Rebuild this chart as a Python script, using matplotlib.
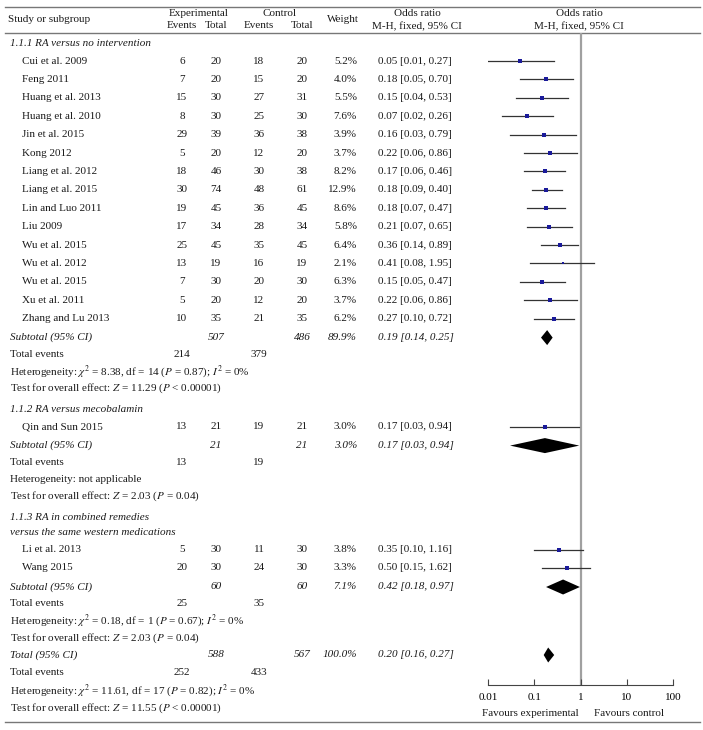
import numpy as np
import matplotlib
matplotlib.use('Agg')
import matplotlib.pyplot as plt

plt.rcParams['font.family'] = ['Liberation Serif', 'DejaVu Serif']
plt.rcParams['mathtext.fontset'] = 'stix'

# subgroup 1.1.1
studies1 = ['Cui et al. 2009', 'Feng 2011', 'Huang et al. 2013', 'Huang et al. 2010', 'Jin et al. 2015',
            'Kong 2012', 'Liang et al. 2012', 'Liang et al. 2015', 'Lin and Luo 2011', 'Liu 2009',
            'Wu et al. 2015', 'Wu et al. 2012', 'Wu et al. 2015', 'Xu et al. 2011', 'Zhang and Lu 2013']
exp_ev1 = [6, 7, 15, 8, 29, 5, 18, 30, 19, 17, 25, 13, 7, 5, 10]
exp_n1 = [20, 20, 30, 30, 39, 20, 46, 74, 45, 34, 45, 19, 30, 20, 35]
ctl_ev1 = [18, 15, 27, 25, 36, 12, 30, 48, 36, 28, 35, 16, 20, 12, 21]
ctl_n1 = [20, 20, 31, 30, 38, 20, 38, 61, 45, 34, 45, 19, 30, 20, 35]
weight1 = [5.2, 4.0, 5.5, 7.6, 3.9, 3.7, 8.2, 12.9, 8.6, 5.8, 6.4, 2.1, 6.3, 3.7, 6.2]
or1 = [0.05, 0.18, 0.15, 0.07, 0.16, 0.22, 0.17, 0.18, 0.18, 0.21, 0.36, 0.41, 0.15, 0.22, 0.27]
lo1 = [0.01, 0.05, 0.04, 0.02, 0.03, 0.06, 0.06, 0.09, 0.07, 0.07, 0.14, 0.08, 0.05, 0.06, 0.10]
hi1 = [0.27, 0.70, 0.53, 0.26, 0.79, 0.86, 0.46, 0.40, 0.47, 0.65, 0.89, 1.95, 0.47, 0.86, 0.72]

# subgroup 1.1.2
studies2 = ['Qin and Sun 2015']
exp_ev2 = [13]
exp_n2 = [21]
ctl_ev2 = [19]
ctl_n2 = [21]
weight2 = [3.0]
or2 = [0.17]
lo2 = [0.03]
hi2 = [0.94]

# subgroup 1.1.3
studies3 = ['Li et al. 2013', 'Wang 2015']
exp_ev3 = [5, 20]
exp_n3 = [30, 30]
ctl_ev3 = [11, 24]
ctl_n3 = [30, 30]
weight3 = [3.8, 3.3]
or3 = [0.35, 0.50]
lo3 = [0.10, 0.15]
hi3 = [1.16, 1.62]

# subtotals
sub_exp_n = [507, 21, 60]
sub_ctl_n = [486, 21, 60]
sub_weight = [89.9, 3.0, 7.1]
sub_or = [0.19, 0.17, 0.42]
sub_lo = [0.14, 0.03, 0.18]
sub_hi = [0.25, 0.94, 0.97]
sub_exp_ev = [214, 13, 25]
sub_ctl_ev = [379, 19, 35]
sub_het = [r'Heterogeneity: $\chi^2$ = 8.38, df = 14 ($P$ = 0.87); $I^2$ = 0%',
           'Heterogeneity: not applicable',
           r'Heterogeneity: $\chi^2$ = 0.18, df = 1 ($P$ = 0.67); $I^2$ = 0%']
sub_test = [r'Test for overall effect: $Z$ = 11.29 ($P$ < 0.00001)',
            r'Test for overall effect: $Z$ = 2.03 ($P$ = 0.04)',
            r'Test for overall effect: $Z$ = 2.03 ($P$ = 0.04)']

total_exp_n, total_ctl_n, total_or, total_lo, total_hi = 588, 567, 0.20, 0.16, 0.27
total_exp_ev, total_ctl_ev = 252, 433
total_het = r'Heterogeneity: $\chi^2$ = 11.61, df = 17 ($P$ = 0.82); $I^2$ = 0%'
total_test = r'Test for overall effect: $Z$ = 11.55 ($P$ < 0.00001)'

groups = [
    (['1.1.1 RA versus no intervention'], studies1, exp_ev1, exp_n1, ctl_ev1, ctl_n1, weight1, or1, lo1, hi1),
    (['1.1.2 RA versus mecobalamin'], studies2, exp_ev2, exp_n2, ctl_ev2, ctl_n2, weight2, or2, lo2, hi2),
    (['1.1.3 RA in combined remedies', 'versus the same western medications'],
     studies3, exp_ev3, exp_n3, ctl_ev3, ctl_n3, weight3, or3, lo3, hi3),
]

W, H = 703, 730
fig = plt.figure(figsize=(W / 100, H / 100), dpi=100)
ax = fig.add_axes([0, 0, 1, 1])
ax.set_xlim(0, W)
ax.set_ylim(H, 0)
ax.axis('off')

# forest axes, in pixel y coords so rows line up with the table
x0, x1 = 488, 673
y_top, y_axis = 33, 685
fx = fig.add_axes([x0 / W, (H - y_axis) / H, (x1 - x0) / W, (y_axis - y_top) / H])
fx.set_xscale('log')
fx.set_xlim(0.01, 100)
fx.set_ylim(y_axis, y_top)
fx.patch.set_alpha(0)
for s in ['top', 'left', 'right']:
    fx.spines[s].set_visible(False)
fx.spines['bottom'].set_color('#444444')
fx.spines['bottom'].set_linewidth(0.8)
fx.set_yticks([])
fx.set_xticks([0.01, 0.1, 1, 10, 100])
fx.set_xticklabels(['0.01', '0.1', '1', '10', '100'])
fx.minorticks_off()
fx.tick_params(axis='x', direction='in', length=4, width=0.8, color='#444444',
               labelsize=8, pad=6)
fx.axvline(1, color='#a0a0a0', lw=1.6, zorder=1)

fs = 8
line_c = '#777777'
col_ee, col_en, col_ce, col_cn, col_w, col_or = 182, 216, 259, 302, 357, 378


def txt(x, y, s, ha='left', style='normal'):
    ax.text(x, y, s, ha=ha, va='center', fontsize=fs, style=style, color='#1a1a1a')


def row_numbers(y, ee, en, ce, cn, w, o, lo, hi, style='normal'):
    if ee is not None:
        txt(col_ee, y, str(ee), 'center')
        txt(col_ce, y, str(ce), 'center')
    txt(col_en, y, str(en), 'center', style)
    txt(col_cn, y, str(cn), 'center', style)
    txt(col_w, y, f'{w:.1f}%', 'right', style)
    txt(col_or, y, f'{o:.2f} [{lo:.2f}, {hi:.2f}]', 'left', style)


def diamond(y, o, lo, hi, h=15):
    fx.fill([lo, o, hi, o], [y, y - h / 2, y, y + h / 2], color='black', lw=0, zorder=3)


# header
ax.plot([5, 700], [7, 7], color=line_c, lw=1)
ax.plot([5, 700], [33, 33], color=line_c, lw=1)
txt(8, 20, 'Study or subgroup')
txt(199, 14, 'Experimental', 'center')
txt(col_ee, 26, 'Events', 'center')
txt(col_en, 26, 'Total', 'center')
txt(280, 14, 'Control', 'center')
txt(col_ce, 26, 'Events', 'center')
txt(col_cn, 26, 'Total', 'center')
txt(343, 20, 'Weight', 'center')
txt(417, 14, 'Odds ratio', 'center')
txt(417, 27, 'M-H, fixed, 95% CI', 'center')
txt(579, 14, 'Odds ratio', 'center')
txt(579, 27, 'M-H, fixed, 95% CI', 'center')

step = 18.4
y = 44
for g, grp in enumerate(groups):
    title, names, ee, en, ce, cn, w, o, lo, hi = grp
    for k, t in enumerate(title):
        txt(10, y + k * 15, t, style='italic')
    y += 15 * (len(title) - 1) + 17
    for i in range(len(names)):
        txt(22, y, names[i])
        row_numbers(y, ee[i], en[i], ce[i], cn[i], w[i], o[i], lo[i], hi[i])
        fx.plot([lo[i], hi[i]], [y, y], color='#333333', lw=0.9, zorder=2)
        fx.plot(o[i], y, marker='s', ms=1.9 + 0.09 * w[i], color='#1a1a9a', mew=0, zorder=3)
        if i < len(names) - 1:
            y += step
    y += 19
    txt(10, y, 'Subtotal (95% CI)', style='italic')
    row_numbers(y, None, sub_exp_n[g], None, sub_ctl_n[g], sub_weight[g],
                sub_or[g], sub_lo[g], sub_hi[g], style='italic')
    diamond(y, sub_or[g], sub_lo[g], sub_hi[g])
    y += 17
    txt(10, y, 'Total events')
    txt(col_ee, y, str(sub_exp_ev[g]), 'center')
    txt(col_ce, y, str(sub_ctl_ev[g]), 'center')
    y += 17
    txt(10, y, sub_het[g])
    y += 17
    txt(10, y, sub_test[g])
    y += 21

y -= 4
txt(10, y, 'Total (95% CI)', style='italic')
row_numbers(y, None, total_exp_n, None, total_ctl_n, 100.0, total_or, total_lo, total_hi, style='italic')
diamond(y, total_or, total_lo, total_hi)
y += 18
txt(10, y, 'Total events')
txt(col_ee, y, str(total_exp_ev), 'center')
txt(col_ce, y, str(total_ctl_ev), 'center')
y += 18
txt(10, y, total_het)
y += 17
txt(10, y, total_test)

txt(530, 714, 'Favours experimental', 'center')
txt(629, 714, 'Favours control', 'center')
ax.plot([5, 700], [722, 722], color=line_c, lw=1)

fig.savefig('out.png', dpi=100)
